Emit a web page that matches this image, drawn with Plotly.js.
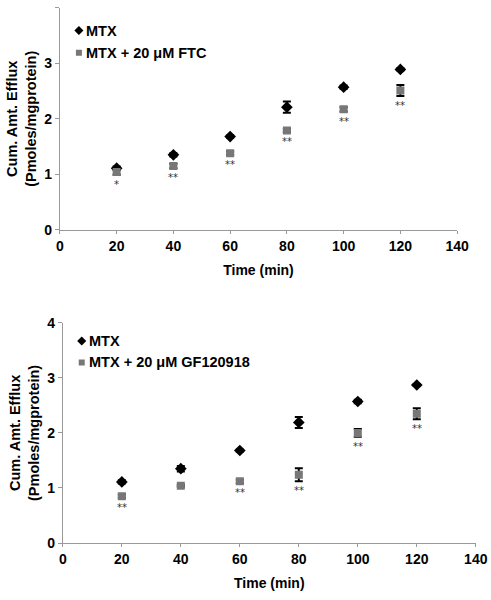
<!DOCTYPE html>
<html><head><meta charset="utf-8">
<script src="https://cdn.plot.ly/plotly-3.0.1.min.js"></script>
<style>html,body{margin:0;padding:0;background:#fff}#chart{width:491px;height:600px}</style>
</head><body><div id="chart"></div>
<script>
const time = [20, 40, 60, 80, 100, 120];
// Top panel
const mtxTop = [1.11, 1.35, 1.68, 2.21, 2.57, 2.89];
const mtxTopErr = [0.03, 0.03, 0.02, 0.10, 0.03, 0.02];
const ftc = [1.04, 1.15, 1.38, 1.79, 2.17, 2.51];
const ftcErr = [0.05, 0.04, 0.03, 0.03, 0.04, 0.10];
const ftcSig = ['*', '**', '**', '**', '**', '**'];
// Bottom panel
const mtxBot = [1.11, 1.35, 1.68, 2.19, 2.57, 2.87];
const mtxBotErr = [0.03, 0.05, 0.02, 0.10, 0.03, 0.02];
const gf = [0.85, 1.04, 1.12, 1.24, 2.00, 2.35];
const gfErr = [0.03, 0.02, 0.03, 0.12, 0.07, 0.10];
const gfSig = ['**', '', '**', '**', '**', '**'];
const legendTop = ['MTX', 'MTX + 20 \u03bcM FTC'];
const legendBot = ['MTX', 'MTX + 20 \u03bcM GF120918'];

const font = {family: 'Liberation Sans, Arial, sans-serif', color: '#000'};
function mtxTrace(y, e, xa, ya) {
  return {x: time, y: y, xaxis: xa, yaxis: ya, type: 'scatter', mode: 'markers', showlegend: false,
    marker: {symbol: 'diamond', size: 9, color: '#000'},
    error_y: {type: 'data', array: e, visible: true, color: '#000', thickness: 2, width: 4}};
}
function trtTrace(y, e, xa, ya) {
  return {x: time, y: y, xaxis: xa, yaxis: ya, type: 'scatter', mode: 'markers', showlegend: false,
    marker: {symbol: 'square', size: 8, color: '#777'},
    error_y: {type: 'data', array: e, visible: true, color: '#000', thickness: 2, width: 4}};
}
const data = [
  mtxTrace(mtxTop, mtxTopErr, 'x', 'y'),
  trtTrace(ftc, ftcErr, 'x', 'y'),
  mtxTrace(mtxBot, mtxBotErr, 'x2', 'y2'),
  trtTrace(gf, gfErr, 'x2', 'y2')
];
const legPos = [
  ['x', 'y', 6.7, [3.59, 3.19], legendTop],
  ['x2', 'y2', 6.4, [3.67, 3.28], legendBot]
];
const annotations = [];
legPos.forEach(function (p) {
  data.push({x: [p[2]], y: [p[3][0]], xaxis: p[0], yaxis: p[1], mode: 'markers', showlegend: false, marker: {symbol: 'diamond', size: 7, color: '#000'}});
  data.push({x: [p[2]], y: [p[3][1]], xaxis: p[0], yaxis: p[1], mode: 'markers', showlegend: false, marker: {symbol: 'square', size: 6, color: '#777'}});
  p[4].forEach(function (t, i) {
    annotations.push({x: p[2], y: p[3][i], xref: p[0], yref: p[1], text: '<b>' + t + '</b>', showarrow: false,
      xanchor: 'left', yanchor: 'middle', xshift: 5, font: Object.assign({}, font, {size: 14.5})});
  });
});

function xax(dom, anchor) {
  return {domain: dom, anchor: anchor, range: [0, 140], dtick: 20, showgrid: false, zeroline: false,
    showline: true, linecolor: '#999', linewidth: 1, ticks: 'outside', ticklen: 3, tickcolor: '#999',
    tickfont: Object.assign({}, font, {size: 14, weight: 'bold'}),
    title: {text: '<b>Time (min)</b>', font: Object.assign({}, font, {size: 14}), standoff: 12}};
}
function yax(dom, anchor) {
  return {domain: dom, anchor: anchor, range: [0, 4], dtick: 1, showgrid: false, zeroline: false,
    showline: true, linecolor: '#999', linewidth: 1, ticks: 'outside', ticklen: 4, tickcolor: '#999',
    tickfont: Object.assign({}, font, {size: 14, weight: 'bold'}),
    title: {text: '<b>Cum. Amt. Efflux<br>(Pmoles/mgprotein)</b>', font: Object.assign({}, font, {size: 14.5}), standoff: 4}};
}
function sig(arr, vals, errs, xr, yr) {
  arr.forEach(function (s, i) {
    if (!s) return;
    annotations.push({x: time[i], y: vals[i] - errs[i], xref: xr, yref: yr, text: s, showarrow: false,
      xanchor: 'center', yanchor: 'top', yshift: -2, font: {family: 'DejaVu Sans, sans-serif', size: 10, color: '#333'}});
  });
}
sig(ftcSig, ftc, ftcErr, 'x', 'y');
sig(gfSig, gf, gfErr, 'x2', 'y2');

const layout = {
  width: 491, height: 600, margin: {l: 0, r: 0, t: 0, b: 0},
  paper_bgcolor: '#fff', plot_bgcolor: '#fff', showlegend: false, font: font,
  xaxis: xax([0.122, 0.931], 'y'), yaxis: yax([0.617, 0.987], 'x'),
  xaxis2: xax([0.128, 0.969], 'y2'), yaxis2: yax([0.095, 0.462], 'x2'),
  annotations: annotations
};
Plotly.newPlot('chart', data, layout, {displayModeBar: false, staticPlot: true});
</script></body></html>
